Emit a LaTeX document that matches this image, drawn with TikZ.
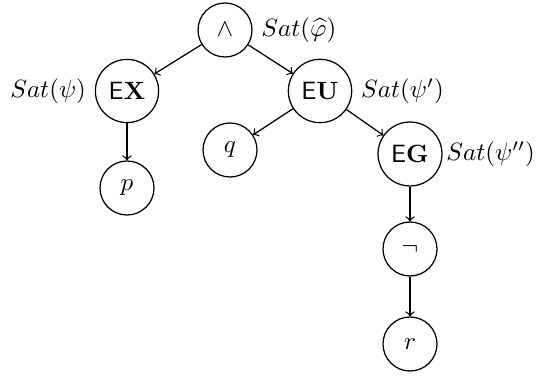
\documentclass[tikz,border=0pt]{standalone}
\usepackage{amsmath,amssymb}
\begin{document}
\begin{tikzpicture}[x=0.4pt,y=-0.4pt,
  st/.style={circle,draw,line width=0.5pt,minimum size=21.6pt,inner sep=0.3333em},
  edge/.style={->,line width=0.5pt}]
\useasboundingbox (0,0) rectangle (537,377);
\node[st,label={right:$Sat(\widehat{\varphi})$}] (and) at (225,30) {$\wedge$};
\node[st,label={left:$Sat(\psi)$}] (ex) at (127,91) {$\mathsf{E}\mathbf{X}$};
\node[st,label={right:$Sat(\psi')$}] (eu) at (320,91) {$\mathsf{E}\mathbf{U}$};
\node[st] (p) at (127,188) {$p$};
\node[st] (q) at (230,150) {$q$};
\node[st,label={[label distance=-2pt]right:$Sat(\psi'')$}] (eg) at (410,154) {$\mathsf{E}\mathbf{G}$};
\node[st] (neg) at (410,249) {$\neg$};
\node[st] (r) at (410,344) {$r$};
\draw[edge] (and) -- (ex);
\draw[edge] (and) -- (eu);
\draw[edge] (ex) -- (p);
\draw[edge] (eu) -- (q);
\draw[edge] (eu) -- (eg);
\draw[edge] (eg) -- (neg);
\draw[edge] (neg) -- (r);
\end{tikzpicture}
\end{document}
